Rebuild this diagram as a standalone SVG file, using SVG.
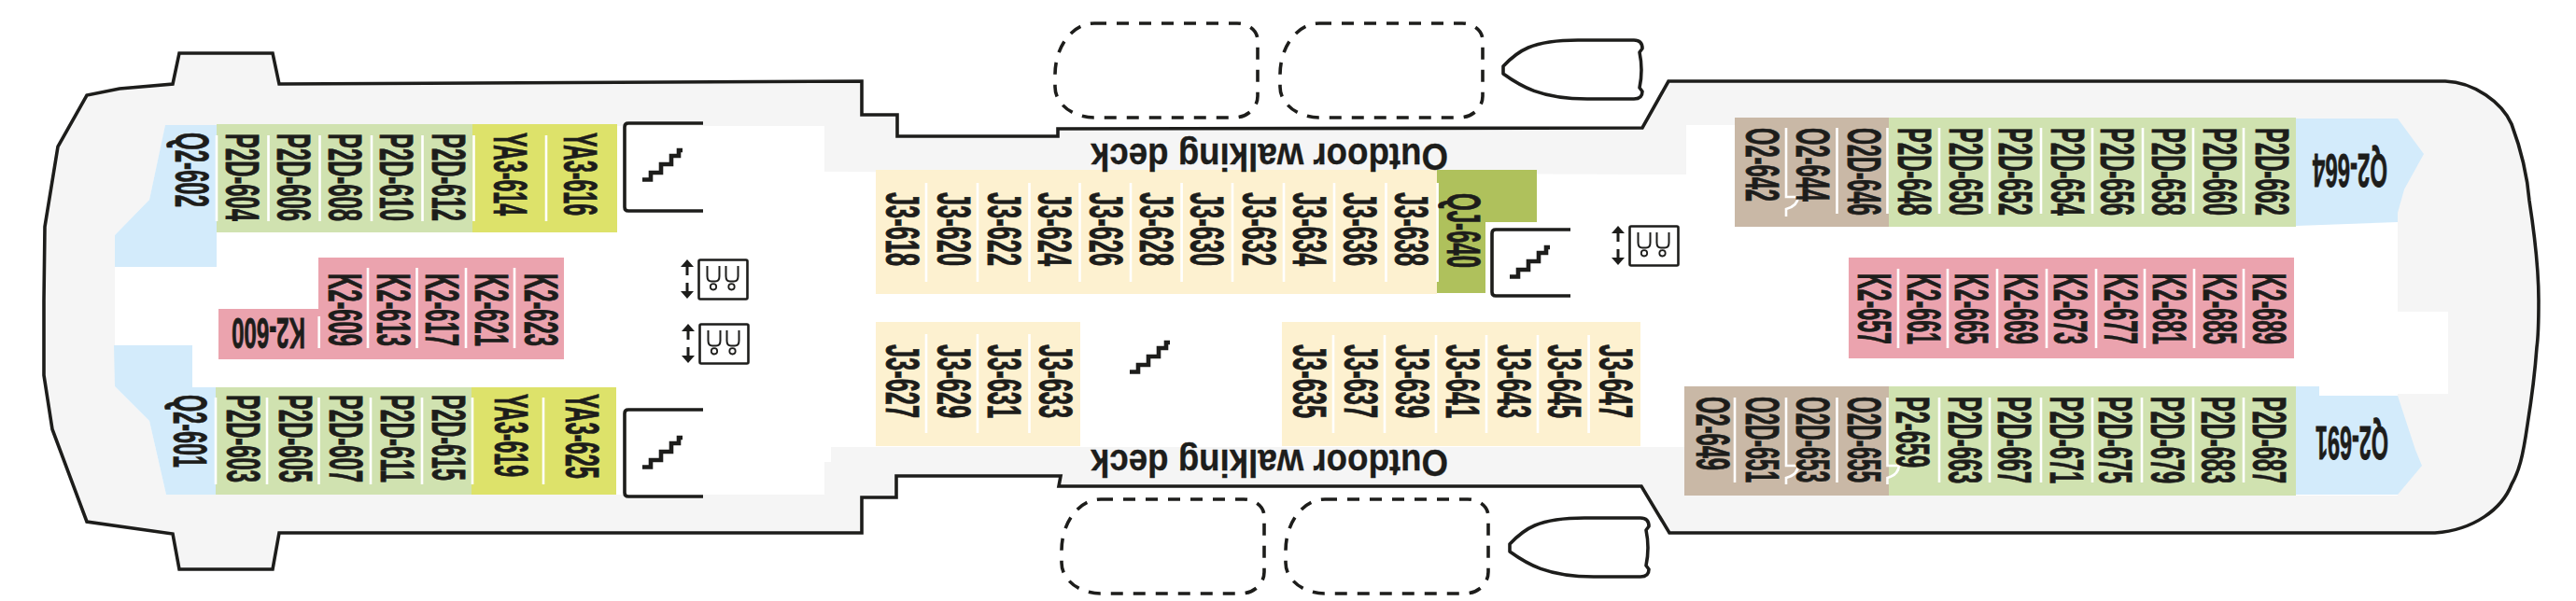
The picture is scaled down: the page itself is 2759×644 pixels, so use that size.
<svg xmlns="http://www.w3.org/2000/svg" xmlns:xlink="http://www.w3.org/1999/xlink" width="2759" height="644" viewBox="0 0 2759 644">
<style>
text{font-family:"Liberation Sans Narrow","Liberation Sans",Arial,sans-serif;font-weight:700;fill:#1d1d1b}
.c{font-size:50px;stroke:#1d1d1b;stroke-width:.9px}
.r{font-size:47px;stroke:#1d1d1b;stroke-width:.9px}
.d{font-size:40px;stroke:#1d1d1b;stroke-width:.3px}
.line{fill:none;stroke:#1d1d1b;stroke-width:3.6;stroke-linejoin:round}
.stairs{fill:none;stroke:#1d1d1b;stroke-width:4.6;stroke-linejoin:miter}
.dash{fill:none;stroke:#1d1d1b;stroke-width:3.6;stroke-dasharray:13 11}
.sep{stroke:#fff;stroke-width:2.6;fill:none}
.blue{fill:#d3ebfb}.green{fill:#d0e2b0}.yellow{fill:#dde26a}.pink{fill:#eba3ae}.cream{fill:#fdf1d0}.olive{fill:#afc15c}.brown{fill:#c9b8a6}
</style>
<defs>
<path id="stair" class="stairs" d="M688,192.5 H697 V185 H708 V176 H719 V167 H727 V161 H731"/>
<path id="boat" class="line" d="M1610,71 C1625,55 1640,43 1690,43 L1750,43 Q1759,43 1759,52 L1756,56 Q1760,75 1756,94 L1759,98 Q1759,106 1750,106 L1700,106 C1650,106 1628,92 1610,79 Z"/>
<path id="bay" class="dash" d="M1172,25 H1325 A22,18 0 0 1 1347,43 V103 A25,23 0 0 1 1322,126 H1172 A42,33 0 0 1 1130,93 V80 A42,55 0 0 1 1172,25 Z"/>
<g id="lift">
<rect x="748.5" y="278.5" width="52" height="42" rx="1.5" fill="#fff" stroke="#1d1d1b" stroke-width="2.6"/>
<path fill="none" stroke="#1d1d1b" stroke-width="2" d="M757.5,285 V296 Q757.5,301.5 762,301.5 H766 Q770.5,301.5 770.5,296 V285 M777.5,285 V296 Q777.5,301.5 782,301.5 H786 Q790.5,301.5 790.5,296 V285"/>
<circle cx="764" cy="307.3" r="3.2" fill="none" stroke="#1d1d1b" stroke-width="1.8"/>
<circle cx="783.5" cy="307.3" r="3.2" fill="none" stroke="#1d1d1b" stroke-width="1.8"/>
<path fill="none" stroke="#1d1d1b" stroke-width="3" d="M736,282 V295 M736,303 V316"/>
<path fill="#1d1d1b" d="M729,286 L736,278 L743,286 Z M729,312 L736,320 L743,312 Z"/>
</g>
</defs>
<g id="hull">
<path fill="#f5f5f5" stroke="#1d1d1b" stroke-width="3.6" stroke-linejoin="miter" d="M47,322 L48,243 L62,157 L93,102 L128,95 L185,90 L192,57 H292 L299,90 L923,87 V123 H961 V146 H1133 V138 L1759,137 L1787,87 H2619 C2650,88 2680,110 2690,133 C2700,160 2707,190 2709,215 C2716,260 2719,290 2719,322 C2719,350 2718,365 2717,372 C2715,400 2711,430 2707,455 C2702,490 2698,505 2690,519 C2680,545 2650,568 2608,571 H1788 L1758,521 H1134 L1136,510 H960 V533 H923 V571 H299 L292,610 H192 L185,572 L93,559 L56,460 L47,402 Z"/>
<path fill="#fff" d="M177,135 H883 V184 L1806,187 V134 H2568 V334 H2622 V422 H2568 V531 H1806 V479 H890 V495 H883 V530 H178 L160,451 L123,414 V252 L160,214 Z"/>
</g>
<g id="blocks">
<path class="blue" d="M177,134 H232 V286 H123 V252 L160,214 Z"/>
<path class="blue" d="M122,370 H206 V415 H231 V530 H178 L160,451 L123,414 Z"/>
<path class="blue" d="M2459,127 H2568 L2596,165 L2575,203 L2568,228 V238 L2459,242 Z"/>
<path class="blue" d="M2459,414 H2484 V424 H2568 L2587,482 L2594,499 L2568,530 H2459 Z"/>
<rect class="green" x="232" y="133" width="274" height="116"/>
<rect class="yellow" x="506" y="133" width="155" height="116"/>
<rect class="green" x="231" y="415" width="274" height="115"/>
<rect class="yellow" x="505" y="415" width="155" height="115"/>
<path class="pink" d="M341,276 H604 V385 H234 V331 H341 Z"/>
<rect class="cream" x="938" y="182" width="601" height="133"/>
<path class="olive" d="M1539,182 H1646 V238 H1591 V314 H1539 Z"/>
<rect class="cream" x="938" y="345" width="219" height="133"/>
<rect class="cream" x="1373" y="345" width="384" height="133"/>
<rect class="brown" x="1858" y="126" width="165" height="117"/>
<rect class="green" x="2023" y="126" width="436" height="117"/>
<rect class="pink" x="1980" y="276" width="477" height="108"/>
<rect class="brown" x="1804" y="414" width="219" height="117"/>
<rect class="green" x="2023" y="414" width="436" height="117"/>
</g>
<g id="separators">
<path class="sep" d="M232,145 V237 M287.5,145 V237 M342.5,145 V237 M398,145 V237 M452.5,145 V237 M507.5,145 V237 M585,145 V237"/>
<path class="sep" d="M231,426 V519 M286,426 V519 M341.5,426 V519 M397,426 V519 M452,426 V519 M506,426 V519 M582,426 V519"/>
<path class="sep" d="M341.7,339 V373 M394,287 V373 M446.5,287 V373 M499,287 V373 M551,287 V373"/>
<path class="sep" d="M992,196 V302 M1047,196 V302 M1102.5,196 V302 M1156.5,196 V302 M1211,196 V302 M1265.6,196 V302 M1320,196 V302 M1375,196 V302 M1429,196 V302 M1484.5,196 V302 M1539.6,196 V302"/>
<path class="sep" d="M992,358 V464 M1047,358 V464 M1102.5,358 V464 M1428,359 V464 M1483,359 V464 M1538,359 V464 M1592,359 V464 M1647,359 V464 M1701.6,359 V464"/>
<path class="sep" d="M1913,137 V211 H1926 Q1925,221 1913,224 V232 M1967.5,137 V229 M2021.5,137 V229 M2077,137 V229 M2131,137 V229 M2186,137 V229 M2241,137 V229 M2295,137 V229 M2349,137 V229 M2403,137 V229"/>
<path class="sep" d="M2033,288 V373 M2086,288 V373 M2139,288 V373 M2192,288 V373 M2245,288 V373 M2297,288 V373 M2350,288 V373 M2403,288 V373"/>
<path class="sep" d="M1858,426 V517 M1913,426 V499 H1926 Q1925,509 1913,512 V519 M1967.5,426 V517 M2021.5,426 V499 H2034 Q2033,509 2021.5,512 V519 M2077,426 V517 M2131,426 V517 M2186,426 V517 M2241,426 V517 M2294,426 V517 M2349,426 V517 M2403,426 V517"/>
</g>
<g id="structure">
<use xlink:href="#bay" href="#bay"/>
<use xlink:href="#bay" href="#bay" transform="translate(241,0)"/>
<use xlink:href="#bay" href="#bay" transform="translate(7,510)"/>
<use xlink:href="#bay" href="#bay" transform="translate(247,510)"/>
<use xlink:href="#boat" href="#boat"/>
<use xlink:href="#boat" href="#boat" transform="translate(7,512)"/>
<path class="line" d="M753,132 H673 Q669,132 669,136 V222 Q669,226 673,226 H753"/>
<path class="line" d="M753,439 H673 Q669,439 669,443 V528 Q669,532 673,532 H753"/>
<path class="line" d="M1682,246 H1602 Q1598,246 1598,250 V313 Q1598,317 1602,317 H1682"/>
<use xlink:href="#stair" href="#stair"/>
<use xlink:href="#stair" href="#stair" transform="translate(0,308)"/>
<use xlink:href="#stair" href="#stair" transform="translate(929,104)"/>
<use xlink:href="#stair" href="#stair" transform="translate(522,206)"/>
<use xlink:href="#lift" href="#lift"/>
<use xlink:href="#lift" href="#lift" transform="translate(1,69)"/>
<use xlink:href="#lift" href="#lift" transform="translate(997,-36)"/>
</g>
<g id="labels-inverted">
<text class="d" transform="translate(1551,154) rotate(180)" textLength="383" lengthAdjust="spacingAndGlyphs">Outdoor walking deck</text>
<text class="d" transform="translate(1551,482) rotate(180)" textLength="383" lengthAdjust="spacingAndGlyphs">Outdoor walking deck</text>
<text class="r" transform="translate(327,341) rotate(180)" textLength="79" lengthAdjust="spacingAndGlyphs">K2-600</text>
<text class="c" transform="translate(2557,165) rotate(180)" textLength="80" lengthAdjust="spacingAndGlyphs">Q2-664</text>
<text class="c" transform="translate(2558,457) rotate(180)" textLength="78" lengthAdjust="spacingAndGlyphs">Q2-691</text>
</g>
<g id="labels-cabins" transform="translate(1.5,0)">
<text class="c" transform="translate(186,142) rotate(90)" textLength="80" lengthAdjust="spacingAndGlyphs">Q2-602</text>
<text class="c" transform="translate(240,143) rotate(90)" textLength="94" lengthAdjust="spacingAndGlyphs">P2D-604</text>
<text class="c" transform="translate(295,143) rotate(90)" textLength="94" lengthAdjust="spacingAndGlyphs">P2D-606</text>
<text class="c" transform="translate(350,143) rotate(90)" textLength="94" lengthAdjust="spacingAndGlyphs">P2D-608</text>
<text class="c" transform="translate(405,143) rotate(90)" textLength="94" lengthAdjust="spacingAndGlyphs">P2D-610</text>
<text class="c" transform="translate(461,143) rotate(90)" textLength="94" lengthAdjust="spacingAndGlyphs">P2D-612</text>
<text class="c" transform="translate(527,142) rotate(90)" textLength="89" lengthAdjust="spacingAndGlyphs">YA3-614</text>
<text class="c" transform="translate(602,142) rotate(90)" textLength="89" lengthAdjust="spacingAndGlyphs">YA3-616</text>
<text class="c" transform="translate(184,423) rotate(90)" textLength="78" lengthAdjust="spacingAndGlyphs">Q2-601</text>
<text class="c" transform="translate(241,423) rotate(90)" textLength="94" lengthAdjust="spacingAndGlyphs">P2D-603</text>
<text class="c" transform="translate(297,423) rotate(90)" textLength="94" lengthAdjust="spacingAndGlyphs">P2D-605</text>
<text class="c" transform="translate(351,423) rotate(90)" textLength="94" lengthAdjust="spacingAndGlyphs">P2D-607</text>
<text class="c" transform="translate(406,423) rotate(90)" textLength="94" lengthAdjust="spacingAndGlyphs">P2D-611</text>
<text class="c" transform="translate(461,423) rotate(90)" textLength="92" lengthAdjust="spacingAndGlyphs">P2D-615</text>
<text class="c" transform="translate(528,422) rotate(90)" textLength="89" lengthAdjust="spacingAndGlyphs">YA3-619</text>
<text class="c" transform="translate(604,422) rotate(90)" textLength="91" lengthAdjust="spacingAndGlyphs">YA3-625</text>
<text class="c" transform="translate(350,293) rotate(90)" textLength="78" lengthAdjust="spacingAndGlyphs">K2-609</text>
<text class="c" transform="translate(402,293) rotate(90)" textLength="78" lengthAdjust="spacingAndGlyphs">K2-613</text>
<text class="c" transform="translate(454,293) rotate(90)" textLength="78" lengthAdjust="spacingAndGlyphs">K2-617</text>
<text class="c" transform="translate(507,293) rotate(90)" textLength="78" lengthAdjust="spacingAndGlyphs">K2-621</text>
<text class="c" transform="translate(560,293) rotate(90)" textLength="78" lengthAdjust="spacingAndGlyphs">K2-623</text>
<text class="c" transform="translate(947,206) rotate(90)" textLength="79" lengthAdjust="spacingAndGlyphs">J3-618</text>
<text class="c" transform="translate(1002,206) rotate(90)" textLength="79" lengthAdjust="spacingAndGlyphs">J3-620</text>
<text class="c" transform="translate(1056,206) rotate(90)" textLength="79" lengthAdjust="spacingAndGlyphs">J3-622</text>
<text class="c" transform="translate(1110,206) rotate(90)" textLength="79" lengthAdjust="spacingAndGlyphs">J3-624</text>
<text class="c" transform="translate(1165,206) rotate(90)" textLength="79" lengthAdjust="spacingAndGlyphs">J3-626</text>
<text class="c" transform="translate(1219,206) rotate(90)" textLength="79" lengthAdjust="spacingAndGlyphs">J3-628</text>
<text class="c" transform="translate(1273,206) rotate(90)" textLength="79" lengthAdjust="spacingAndGlyphs">J3-630</text>
<text class="c" transform="translate(1329,206) rotate(90)" textLength="79" lengthAdjust="spacingAndGlyphs">J3-632</text>
<text class="c" transform="translate(1383,206) rotate(90)" textLength="79" lengthAdjust="spacingAndGlyphs">J3-634</text>
<text class="c" transform="translate(1437,206) rotate(90)" textLength="79" lengthAdjust="spacingAndGlyphs">J3-636</text>
<text class="c" transform="translate(1492,206) rotate(90)" textLength="79" lengthAdjust="spacingAndGlyphs">J3-638</text>
<text class="c" transform="translate(1548,207) rotate(90)" textLength="80" lengthAdjust="spacingAndGlyphs">QJ-640</text>
<text class="c" transform="translate(947,369) rotate(90)" textLength="79" lengthAdjust="spacingAndGlyphs">J3-627</text>
<text class="c" transform="translate(1002,369) rotate(90)" textLength="79" lengthAdjust="spacingAndGlyphs">J3-629</text>
<text class="c" transform="translate(1056,369) rotate(90)" textLength="79" lengthAdjust="spacingAndGlyphs">J3-631</text>
<text class="c" transform="translate(1111,369) rotate(90)" textLength="79" lengthAdjust="spacingAndGlyphs">J3-633</text>
<text class="c" transform="translate(1383,369) rotate(90)" textLength="79" lengthAdjust="spacingAndGlyphs">J3-635</text>
<text class="c" transform="translate(1438,369) rotate(90)" textLength="79" lengthAdjust="spacingAndGlyphs">J3-637</text>
<text class="c" transform="translate(1493,369) rotate(90)" textLength="79" lengthAdjust="spacingAndGlyphs">J3-639</text>
<text class="c" transform="translate(1547,369) rotate(90)" textLength="79" lengthAdjust="spacingAndGlyphs">J3-641</text>
<text class="c" transform="translate(1602,369) rotate(90)" textLength="79" lengthAdjust="spacingAndGlyphs">J3-643</text>
<text class="c" transform="translate(1656,369) rotate(90)" textLength="79" lengthAdjust="spacingAndGlyphs">J3-645</text>
<text class="c" transform="translate(1711,369) rotate(90)" textLength="79" lengthAdjust="spacingAndGlyphs">J3-647</text>
<text class="c" transform="translate(1868,137) rotate(90)" textLength="79" lengthAdjust="spacingAndGlyphs">O2-642</text>
<text class="c" transform="translate(1922,137) rotate(90)" textLength="79" lengthAdjust="spacingAndGlyphs">O2-644</text>
<text class="c" transform="translate(1977,137) rotate(90)" textLength="94" lengthAdjust="spacingAndGlyphs">O2D-646</text>
<text class="c" transform="translate(2031,137) rotate(90)" textLength="94" lengthAdjust="spacingAndGlyphs">P2D-648</text>
<text class="c" transform="translate(2086,137) rotate(90)" textLength="94" lengthAdjust="spacingAndGlyphs">P2D-650</text>
<text class="c" transform="translate(2139,137) rotate(90)" textLength="94" lengthAdjust="spacingAndGlyphs">P2D-652</text>
<text class="c" transform="translate(2195,137) rotate(90)" textLength="94" lengthAdjust="spacingAndGlyphs">P2D-654</text>
<text class="c" transform="translate(2248,137) rotate(90)" textLength="94" lengthAdjust="spacingAndGlyphs">P2D-656</text>
<text class="c" transform="translate(2303,137) rotate(90)" textLength="94" lengthAdjust="spacingAndGlyphs">P2D-658</text>
<text class="c" transform="translate(2358,137) rotate(90)" textLength="94" lengthAdjust="spacingAndGlyphs">P2D-660</text>
<text class="c" transform="translate(2414,137) rotate(90)" textLength="94" lengthAdjust="spacingAndGlyphs">P2D-662</text>
<text class="c" transform="translate(1988,293) rotate(90)" textLength="76" lengthAdjust="spacingAndGlyphs">K2-657</text>
<text class="c" transform="translate(2041,293) rotate(90)" textLength="76" lengthAdjust="spacingAndGlyphs">K2-661</text>
<text class="c" transform="translate(2092,293) rotate(90)" textLength="76" lengthAdjust="spacingAndGlyphs">K2-665</text>
<text class="c" transform="translate(2145,293) rotate(90)" textLength="76" lengthAdjust="spacingAndGlyphs">K2-669</text>
<text class="c" transform="translate(2198,293) rotate(90)" textLength="76" lengthAdjust="spacingAndGlyphs">K2-673</text>
<text class="c" transform="translate(2252,293) rotate(90)" textLength="76" lengthAdjust="spacingAndGlyphs">K2-677</text>
<text class="c" transform="translate(2304,293) rotate(90)" textLength="76" lengthAdjust="spacingAndGlyphs">K2-681</text>
<text class="c" transform="translate(2358,293) rotate(90)" textLength="76" lengthAdjust="spacingAndGlyphs">K2-685</text>
<text class="c" transform="translate(2411,293) rotate(90)" textLength="76" lengthAdjust="spacingAndGlyphs">K2-689</text>
<text class="c" transform="translate(1815,425) rotate(90)" textLength="79" lengthAdjust="spacingAndGlyphs">O2-649</text>
<text class="c" transform="translate(1868,425) rotate(90)" textLength="92" lengthAdjust="spacingAndGlyphs">O2D-651</text>
<text class="c" transform="translate(1922,425) rotate(90)" textLength="92" lengthAdjust="spacingAndGlyphs">O2D-653</text>
<text class="c" transform="translate(1977,425) rotate(90)" textLength="92" lengthAdjust="spacingAndGlyphs">O2D-655</text>
<text class="c" transform="translate(2029,425) rotate(90)" textLength="76" lengthAdjust="spacingAndGlyphs">P2-659</text>
<text class="c" transform="translate(2085,425) rotate(90)" textLength="93" lengthAdjust="spacingAndGlyphs">P2D-663</text>
<text class="c" transform="translate(2138,425) rotate(90)" textLength="93" lengthAdjust="spacingAndGlyphs">P2D-667</text>
<text class="c" transform="translate(2194,425) rotate(90)" textLength="93" lengthAdjust="spacingAndGlyphs">P2D-671</text>
<text class="c" transform="translate(2246,425) rotate(90)" textLength="93" lengthAdjust="spacingAndGlyphs">P2D-675</text>
<text class="c" transform="translate(2302,425) rotate(90)" textLength="93" lengthAdjust="spacingAndGlyphs">P2D-679</text>
<text class="c" transform="translate(2356,425) rotate(90)" textLength="93" lengthAdjust="spacingAndGlyphs">P2D-683</text>
<text class="c" transform="translate(2411,425) rotate(90)" textLength="93" lengthAdjust="spacingAndGlyphs">P2D-687</text>
</g>
</svg>
